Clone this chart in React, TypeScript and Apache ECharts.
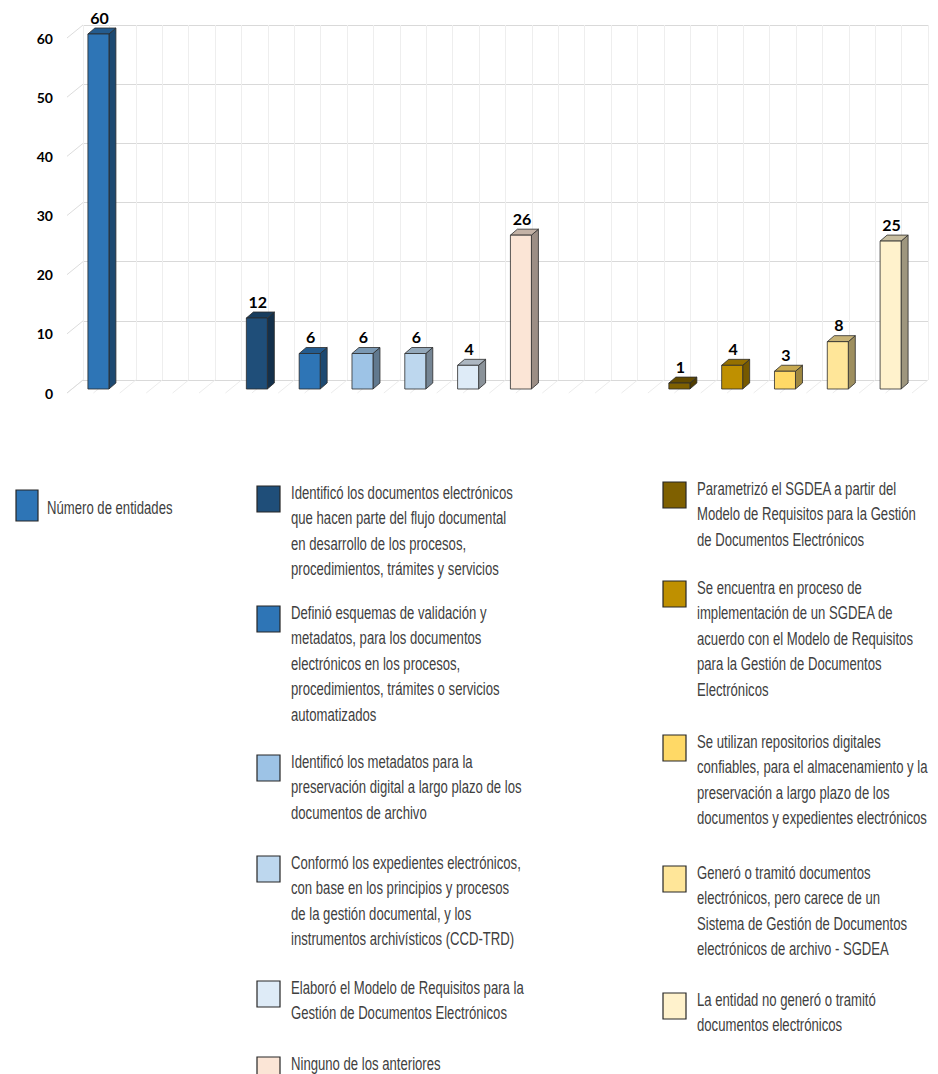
import { useEffect, useRef } from "react";
import * as echarts from "echarts";

// ---- data ----
const slotNames = ["1", "2", "3", "4", "5", "6", "7", "8", "9", "10", "11", "12", "13", "14", "15", "16"];
const barLabels = [
  "Número de entidades",
  "Identificó los documentos electrónicos\nque hacen parte del flujo documental\nen desarrollo de los procesos,\nprocedimientos, trámites y servicios",
  "Definió esquemas de validación y\nmetadatos, para los documentos\nelectrónicos en los procesos,\nprocedimientos, trámites o servicios\nautomatizados",
  "Identificó los metadatos para la\npreservación digital a largo plazo de los\ndocumentos de archivo",
  "Conformó los expedientes electrónicos,\ncon base en los principios y procesos\nde la gestión documental, y los\ninstrumentos archivísticos (CCD-TRD)",
  "Elaboró el Modelo de Requisitos para la\nGestión de Documentos Electrónicos",
  "Ninguno de los anteriores",
  "Parametrizó el SGDEA a partir del\nModelo de Requisitos para la Gestión\nde Documentos Electrónicos",
  "Se encuentra en proceso de\nimplementación de un SGDEA de\nacuerdo con el Modelo de Requisitos\npara la Gestión de Documentos\nElectrónicos",
  "Se utilizan repositorios digitales\nconfiables, para el almacenamiento y la\npreservación a largo plazo de los\ndocumentos y expedientes electrónicos",
  "Generó o tramitó documentos\nelectrónicos, pero carece de un\nSistema de Gestión de Documentos\nelectrónicos de archivo - SGDEA",
  "La entidad no generó o tramitó\ndocumentos electrónicos",
];
const barValues = [60, 12, 6, 6, 6, 4, 26, 1, 4, 3, 8, 25];
const barSlots = [0, 3, 4, 5, 6, 7, 8, 11, 12, 13, 14, 15];
const barColors = [
  "#2E75B6", "#1F4E79", "#2E75B6", "#9DC3E6", "#BDD7EE", "#DEEBF7", "#FBE5D6",
  "#7F6000", "#BF9000", "#FFD966", "#FFE699", "#FFF2CC",
];
const yMin = 0;
const yMax = 60;
const yStep = 10;

// ---- layout (positions only) ----
const legendPos: [number, number, number, number][] = [
  // iconX, textX, firstLineCenterY, iconHeight
  [16, 47, 507, 31],
  [257, 291, 492, 26],
  [257, 291, 612, 26],
  [257, 291, 761, 26],
  [257, 291, 862, 26],
  [257, 291, 987, 26],
  [257, 291, 1063, 26],
  [663, 697, 488, 26],
  [663, 697, 587, 26],
  [663, 697, 741, 26],
  [663, 697, 872, 26],
  [663, 697, 999, 26],
];
const DEPTH_X = 16;
const DEPTH_Y = -13;

function shade(hex: string, f: number) {
  const n = parseInt(hex.slice(1), 16);
  const r = Math.round(((n >> 16) & 255) * f);
  const g = Math.round(((n >> 8) & 255) * f);
  const b = Math.round((n & 255) * f);
  return `rgb(${r},${g},${b})`;
}

export default function App() {
  const ref = useRef<HTMLDivElement>(null);
  useEffect(() => {
    if (!ref.current) return;
    const chart = echarts.init(ref.current, null, { renderer: "svg" });

    const barSeries = barValues.map((v, i) => ({
      type: "custom",
      name: barLabels[i].replace(/\n/g, " "),
      xAxisIndex: 0,
      yAxisIndex: 0,
      silent: true,
      z: 10,
      data: [[barSlots[i], v]],
      renderItem: (params: any, api: any) => {
        const slot = api.value(0);
        const val = api.value(1);
        const top = api.coord([slot, val]);
        const base = api.coord([slot, 0]);
        const bw = 21;
        const dx = 7;
        const dy = -6;
        const x0 = top[0] + 5 - bw / 2;
        const yT = top[1] - 4;
        const yB = base[1] - 4;
        const col = barColors[i];
        const stroke = "#2b2b2b";
        return {
          type: "group",
          children: [
            {
              type: "polygon",
              shape: { points: [[x0 + bw, yT], [x0 + bw + dx, yT + dy], [x0 + bw + dx, yB + dy], [x0 + bw, yB]] },
              style: { fill: shade(col, 0.62), stroke, lineWidth: 0.8 },
            },
            {
              type: "polygon",
              shape: { points: [[x0, yT], [x0 + dx, yT + dy], [x0 + bw + dx, yT + dy], [x0 + bw, yT]] },
              style: { fill: shade(col, 0.78), stroke, lineWidth: 0.8 },
            },
            {
              type: "rect",
              shape: { x: x0, y: yT, width: bw, height: yB - yT },
              style: { fill: col, stroke, lineWidth: 0.8 },
            },
            {
              type: "text",
              x: x0 + bw / 2 + 1,
              y: yT + dy - 3,
              style: {
                text: String(val),
                fontFamily: "Lato",
                fontWeight: "bold",
                fontSize: 16,
                fill: "#000",
                align: "center",
                verticalAlign: "bottom",
              },
            },
          ],
        };
      },
    }));

    const frameSeries = {
      type: "custom",
      name: "frame",
      xAxisIndex: 1,
      yAxisIndex: 1,
      silent: true,
      z: 1,
      data: [[0, 0]],
      renderItem: (params: any, api: any) => {
        const children: any[] = [];
        for (let k = 0; k <= slotNames.length * 2; k++) {
          const p = api.coord([k, 0]);
          children.push({
            type: "line",
            shape: { x1: p[0], y1: p[1], x2: p[0] - DEPTH_X, y2: p[1] - DEPTH_Y },
            style: { stroke: "#ececec", lineWidth: 1 },
          });
        }
        for (let v = yMin; v <= yMax; v += yStep) {
          const p = api.coord([0, v]);
          children.push({
            type: "line",
            shape: { x1: p[0], y1: p[1], x2: p[0] - DEPTH_X, y2: p[1] - DEPTH_Y },
            style: { stroke: "#dcdcdc", lineWidth: 1 },
          });
        }
        return { type: "group", children };
      },
    };

    const graphics: any[] = [];
    barLabels.forEach((lab, i) => {
      const [ix, tx, cy, ih] = legendPos[i];
      const iconTop = i === 0 ? cy - 17 : cy - 6;
      graphics.push({
        type: "rect",
        shape: { x: ix, y: iconTop, width: i === 0 ? 22 : 23, height: ih },
        style: { fill: barColors[i], stroke: "#262626", lineWidth: 1.2 },
      });
      graphics.push({
        type: "text",
        x: tx,
        y: cy - 12.75,
        scaleX: 0.71,
        style: {
          text: lab,
          fontFamily: "'Liberation Sans', Arial, sans-serif",
          fontSize: 18.5,
          lineHeight: 25.5,
          fill: "#404040",
          align: "left",
          verticalAlign: "top",
        },
      });
    });

    chart.setOption({
      animation: false,
      backgroundColor: "#ffffff",
      grid: [
        { left: 67, right: 26, top: 38, bottom: 681 },
        { left: 83, right: 10, top: 25, bottom: 694 },
      ],
      xAxis: [
        {
          type: "category",
          gridIndex: 0,
          data: slotNames,
          axisLine: { show: false },
          axisTick: { show: false },
          axisLabel: { show: false },
          splitLine: { show: false },
        },
        {
          type: "value",
          gridIndex: 1,
          min: 0,
          max: slotNames.length * 2,
          interval: 1,
          axisLine: { show: false },
          axisTick: { show: false },
          axisLabel: { show: false },
          splitLine: { show: true, lineStyle: { color: "#eeeeee", width: 1 } },
        },
      ],
      yAxis: [
        {
          type: "value",
          gridIndex: 0,
          min: yMin,
          max: yMax,
          interval: yStep,
          axisLine: { show: false },
          axisTick: { show: false },
          splitLine: { show: false },
          axisLabel: {
            margin: 14,
            fontFamily: "Lato",
            fontWeight: "bold",
            fontSize: 14,
            color: "#000",
          },
        },
        {
          type: "value",
          gridIndex: 1,
          min: yMin,
          max: yMax,
          interval: yStep,
          axisLine: { show: false },
          axisTick: { show: false },
          axisLabel: { show: false },
          splitLine: { show: true, lineStyle: { color: "#d9d9d9", width: 1.2 } },
        },
      ],
      series: [frameSeries, ...barSeries],
      graphic: { elements: graphics },
    } as any);

    return () => chart.dispose();
  }, []);

  return (
    <div
      ref={ref}
      style={{ position: "absolute", left: 0, top: 0, width: 938, height: 1074, background: "#fff" }}
    />
  );
}
